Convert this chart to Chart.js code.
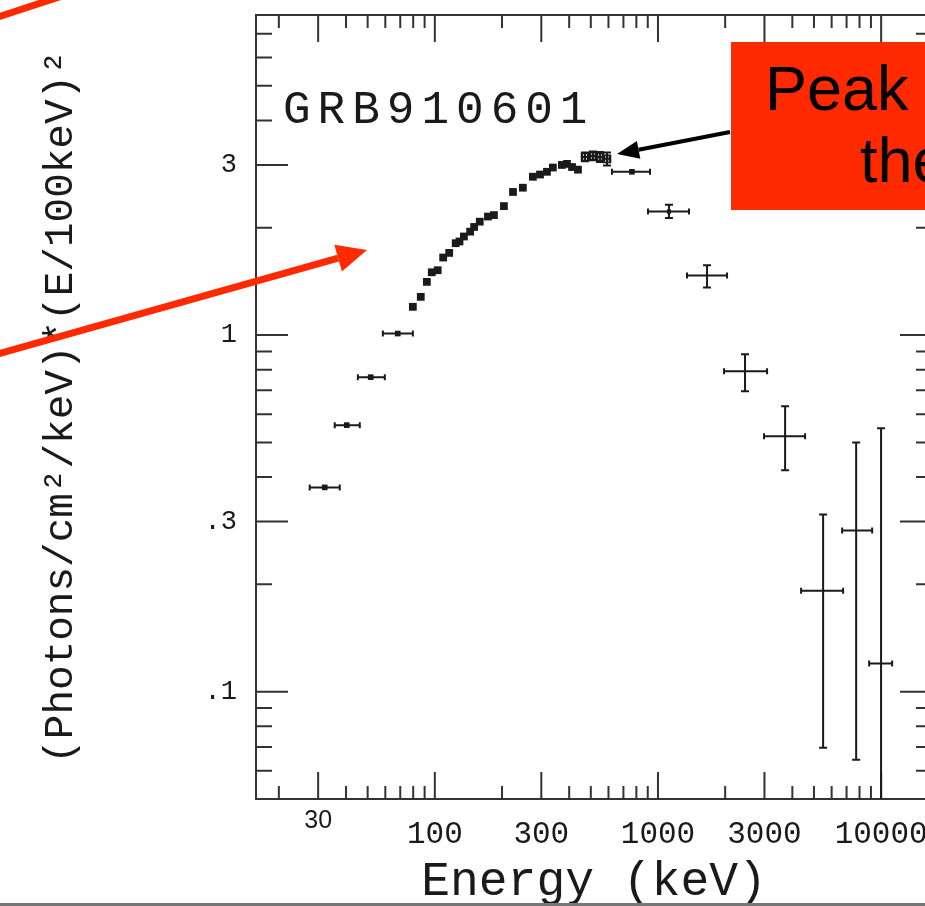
<!DOCTYPE html>
<html>
<head>
<meta charset="utf-8">
<script src="https://cdn.jsdelivr.net/npm/chart.js@4"></script>
<style>
    html, body { margin: 0; padding: 0; background: #fff; overflow: hidden; width: 925px; height: 906px; }
    #wrap { position: absolute; left: 0; top: 0; width: 945px; height: 906px; }
</style>
</head>
<body>
<div id="wrap"><canvas id="spectrum"></canvas></div>
<script>
// low energy bins, only horizontal error bars
const lowEnergy = [32.1, 40.3, 51.6, 68.2];
const lowFlux = [0.374, 0.559, 0.762, 1.01];
const lowEnergyMin = [27.5, 35.6, 45.2, 58.5];
const lowEnergyMax = [37.5, 46.1, 59.7, 79.7];

// the dense run of points up to the peak
const midEnergy = [79.7, 86.5, 92.1, 96.9, 103, 109, 116, 124, 129, 135, 144, 150, 159,
    173, 184, 204, 224, 248, 275, 296, 318, 338, 371, 391, 412, 438];
const midFlux = [1.20, 1.28, 1.41, 1.50, 1.52, 1.65, 1.70, 1.81, 1.83, 1.89, 1.95, 2.01, 2.08,
    2.15, 2.17, 2.30, 2.52, 2.59, 2.78, 2.82, 2.87, 2.95, 3.00, 3.02, 2.96, 2.91];

// peak points (open squares)
const peakEnergy = [471, 511, 550, 591];
const peakFlux = [3.16, 3.18, 3.16, 3.12];
const peakEnergyMin = [458, 497, 535, 575];
const peakEnergyMax = [485, 525, 565, 607];
const peakFluxMin = [3.07, 3.09, 3.06, 2.99];
const peakFluxMax = [3.25, 3.27, 3.26, 3.25];

// high energy bins
const highEnergy = [764, 1120, 1659, 2455, 3712, 5495, 7727, 9991];
const highFlux = [2.87, 2.22, 1.47, 0.792, 0.520, 0.192, 0.283, 0.120];
const highEnergyMin = [622, 902, 1349, 1977, 2987, 4378, 6686, 8835];
const highEnergyMax = [921, 1377, 2039, 3082, 4562, 6755, 9114, 11200];
const highFluxMin = [null, 2.13, 1.36, 0.696, 0.418, 0.0696, 0.0644, 0.03];
const highFluxMax = [null, 2.32, 1.57, 0.884, 0.632, 0.314, 0.500, 0.548];

// axis ticks
const energyMajor = [30, 100, 300, 1000, 3000, 10000];
const energyLabels = ["30", "100", "300", "1000", "3000", "10000"];
const energyMinor = [20, 40, 50, 60, 70, 80, 90, 200, 400, 500, 600, 700, 800, 900,
    2000, 4000, 5000, 6000, 7000, 8000, 9000];
const fluxMajor = [0.1, 0.3, 1, 3];
const fluxLabels = [".1", ".3", "1", "3"];
const fluxMinor = [0.06, 0.07, 0.08, 0.09, 0.2, 0.4, 0.5, 0.6, 0.7, 0.8, 0.9, 2, 4, 5, 6, 7];

const ink = "#1a1a1a";

function points(xs, ys) {
    return xs.map((v, i) => ({x: v, y: ys[i]}));
}

// ticks pointing into the plot, on all four sides
const inwardTicks = {
    id: "inwardTicks",
    afterDatasetsDraw(chart) {
        const {ctx, chartArea: a, scales: {x, y}} = chart;
        ctx.save();
        ctx.strokeStyle = "#333";
        ctx.lineWidth = 2;
        ctx.beginPath();
        let xTick = (v, len) => {
            let px = x.getPixelForValue(v);
            ctx.moveTo(px, a.bottom); ctx.lineTo(px, a.bottom - len);
            ctx.moveTo(px, a.top); ctx.lineTo(px, a.top + len);
        };
        let yTick = (v, len) => {
            let py = y.getPixelForValue(v);
            ctx.moveTo(a.left, py); ctx.lineTo(a.left + len, py);
            ctx.moveTo(a.right, py); ctx.lineTo(a.right - len, py);
        };
        energyMajor.forEach(v => xTick(v, 27));
        energyMinor.forEach(v => xTick(v, 13));
        fluxMajor.forEach(v => yTick(v, 32));
        fluxMinor.forEach(v => yTick(v, 16));
        ctx.stroke();
        ctx.restore();
    },
};

const errorBars = {
    id: "errorBars",
    afterDatasetsDraw(chart) {
        const {ctx, chartArea: a, scales: {x, y}} = chart;
        ctx.save();
        ctx.beginPath();
        ctx.rect(a.left, a.top, a.right - a.left, a.bottom - a.top);
        ctx.clip();
        ctx.strokeStyle = ink;
        ctx.lineWidth = 2;
        chart.data.datasets.forEach(ds => {
            let e = ds.errors;
            if (!e) { return; }
            ds.data.forEach((p, i) => {
                let px = x.getPixelForValue(p.x),
                    py = y.getPixelForValue(p.y);
                ctx.beginPath();
                if (e.xMin && e.xMin[i] !== null) {
                    let x0 = x.getPixelForValue(e.xMin[i]),
                        x1 = x.getPixelForValue(e.xMax[i]);
                    ctx.moveTo(x0, py); ctx.lineTo(x1, py);
                    ctx.moveTo(x0, py - 3); ctx.lineTo(x0, py + 3);
                    ctx.moveTo(x1, py - 3); ctx.lineTo(x1, py + 3);
                }
                if (e.yMin && e.yMin[i] !== null) {
                    let y0 = y.getPixelForValue(e.yMin[i]),
                        y1 = y.getPixelForValue(e.yMax[i]);
                    ctx.moveTo(px, y0); ctx.lineTo(px, y1);
                    ctx.moveTo(px - 4, y0); ctx.lineTo(px + 4, y0);
                    ctx.moveTo(px - 4, y1); ctx.lineTo(px + 4, y1);
                }
                ctx.stroke();
            });
        });
        ctx.restore();
    },
};

function arrow(ctx, x0, y0, x1, y1, width, head, half, color) {
    let ang = Math.atan2(y1 - y0, x1 - x0),
        bx = x1 - head * Math.cos(ang),
        by = y1 - head * Math.sin(ang);
    ctx.strokeStyle = color;
    ctx.fillStyle = color;
    ctx.lineWidth = width;
    ctx.beginPath();
    ctx.moveTo(x0, y0);
    ctx.lineTo(bx, by);
    ctx.stroke();
    ctx.beginPath();
    ctx.moveTo(x1, y1);
    ctx.lineTo(bx + half * Math.sin(ang), by - half * Math.cos(ang));
    ctx.lineTo(bx - half * Math.sin(ang), by + half * Math.cos(ang));
    ctx.closePath();
    ctx.fill();
}

// slide overlay: burst name, red call-out box and arrows
const slide = {
    id: "slide",
    afterDraw(chart) {
        const ctx = chart.ctx;
        ctx.save();
        ctx.textBaseline = "alphabetic";
        ctx.textAlign = "left";
        ctx.letterSpacing = "7px";
        ctx.font = '46px "Liberation Mono"';
        ctx.fillStyle = ink;
        ctx.fillText("GRB910601", 283, 123);

        ctx.letterSpacing = "0px";
        ctx.fillStyle = "#ff2a00";
        ctx.fillRect(731, 42, 240, 168);
        ctx.fillStyle = "#000";
        ctx.font = '63px "Liberation Sans"';
        ctx.fillText("Peak", 765, 110);
        ctx.fillText("the", 860, 182);

        arrow(ctx, 730, 132, 617, 154, 4, 22, 9, "#000");
        arrow(ctx, -20, 359, 367, 250, 7, 30, 14, "#ff2a00");
        ctx.lineWidth = 7;
        ctx.beginPath();
        ctx.moveTo(-5, 18);
        ctx.lineTo(62, -4);
        ctx.stroke();

        ctx.fillStyle = "#777";
        ctx.fillRect(0, 903, 945, 3);
        ctx.restore();
    },
};

// keep the chart area where the scanned frame is
function noOverflowX(scale) {
    scale.paddingLeft = 0;
    scale.paddingRight = 0;
}
function noOverflowY(scale) {
    scale.paddingTop = 0;
    scale.paddingBottom = 0;
}

Chart.defaults.font.family = '"Liberation Mono"';
Chart.defaults.color = ink;

// eslint-disable-next-line no-undef
new Chart(document.getElementById("spectrum"), {
    type: "scatter",
    data: {
        datasets: [{
            data: points(lowEnergy, lowFlux),
            errors: {xMin: lowEnergyMin, xMax: lowEnergyMax},
            pointStyle: "rect",
            pointRadius: 4,
            backgroundColor: ink,
            borderColor: ink,
            borderWidth: 0,
        }, {
            data: points(midEnergy, midFlux),
            pointStyle: "rect",
            pointRadius: 5.5,
            backgroundColor: ink,
            borderColor: ink,
            borderWidth: 0,
        }, {
            data: points(peakEnergy, peakFlux),
            errors: {xMin: peakEnergyMin, xMax: peakEnergyMax, yMin: peakFluxMin, yMax: peakFluxMax},
            pointStyle: "rect",
            pointRadius: 5,
            backgroundColor: "rgba(0,0,0,0)",
            borderColor: ink,
            borderWidth: 1.5,
        }, {
            data: points(highEnergy, highFlux),
            errors: {xMin: highEnergyMin, xMax: highEnergyMax, yMin: highFluxMin, yMax: highFluxMax},
            pointStyle: "rect",
            pointRadius: [4, 3, 0, 0, 0, 0, 0, 0],
            backgroundColor: ink,
            borderColor: ink,
            borderWidth: 0,
        }],
    },
    options: {
        responsive: true,
        maintainAspectRatio: false,
        animation: false,
        layout: {padding: {top: 15, right: 13, left: 0, bottom: 0}},
        plugins: {legend: {display: false}, tooltip: {enabled: false}},
        scales: {
            x: {
                type: "logarithmic",
                position: "bottom",
                min: 15.8,
                max: 16900,
                bounds: "data",
                grid: {display: false, drawTicks: false},
                border: {display: true, color: "#333", width: 2},
                afterBuildTicks: (scale) => { scale.ticks = energyMajor.map(v => ({value: v})); },
                afterFit: (scale) => { scale.height = 107; noOverflowX(scale); },
                ticks: {
                    autoSkip: false,
                    maxRotation: 0,
                    padding: 17,
                    color: ink,
                    font: (c) => (c.tick && c.tick.value === 30
                        ? {family: '"Liberation Sans"', size: 25, lineHeight: 0.37}
                        : {family: '"Liberation Mono"', size: 31, lineHeight: 1.2}),
                    callback: (v, i) => energyLabels[i],
                },
                title: {
                    display: true,
                    text: "Energy (keV)",
                    color: ink,
                    font: {size: 48, lineHeight: 1},
                    padding: {top: 0, bottom: 0},
                },
            },
            x2: {
                type: "logarithmic",
                position: "top",
                min: 15.8,
                max: 16900,
                bounds: "data",
                grid: {display: false, drawTicks: false},
                border: {display: true, color: "#333", width: 2},
                ticks: {display: false},
                afterFit: (scale) => { scale.height = 0; noOverflowX(scale); },
            },
            y: {
                type: "logarithmic",
                position: "left",
                min: 0.05,
                max: 7.9,
                bounds: "data",
                grid: {display: false, drawTicks: false},
                border: {display: true, color: "#333", width: 2},
                afterBuildTicks: (scale) => { scale.ticks = fluxMajor.map(v => ({value: v})); },
                afterFit: (scale) => { scale.width = 256; noOverflowY(scale); },
                ticks: {
                    autoSkip: false,
                    padding: 19,
                    color: ink,
                    font: {size: 27},
                    callback: (v, i) => fluxLabels[i],
                },
                title: {
                    display: true,
                    text: "(Photons/cm²/keV)*(E/100keV)²",
                    color: ink,
                    font: {size: 41, lineHeight: 1.2},
                    padding: {top: 37, bottom: 0},
                },
            },
            y2: {
                type: "logarithmic",
                position: "right",
                min: 0.05,
                max: 7.9,
                bounds: "data",
                grid: {display: false, drawTicks: false},
                border: {display: true, color: "#333", width: 2},
                ticks: {display: false},
                afterFit: (scale) => { scale.width = 0; noOverflowY(scale); },
            },
        },
    },
    plugins: [inwardTicks, errorBars, slide],
});
</script>
</body>
</html>
